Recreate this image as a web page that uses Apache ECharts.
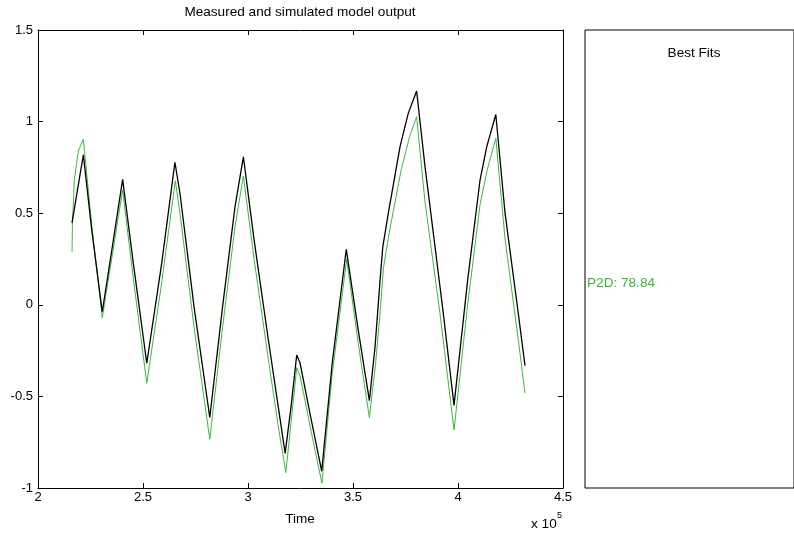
<!DOCTYPE html>
<html>
<head>
<meta charset="utf-8">
<script src="https://cdn.jsdelivr.net/npm/echarts@6/dist/echarts.min.js"></script>
<style>html,body{margin:0;padding:0;background:#fff;}#c{width:794px;height:535px;}</style>
</head>
<body>
<div id="c"></div>
<script>
// Time in units of 1e5
var measuredTime = [2.162, 2.188, 2.216, 2.256, 2.306, 2.354, 2.403, 2.454, 2.518, 2.589, 2.652, 2.676, 2.743, 2.818, 2.879, 2.938, 2.978, 3.029, 3.097, 3.144, 3.177, 3.205, 3.232, 3.248, 3.295, 3.351, 3.401, 3.468, 3.525, 3.578, 3.605, 3.629, 3.642, 3.668, 3.724, 3.763, 3.803, 3.843, 3.930, 3.981, 4.046, 4.105, 4.137, 4.180, 4.224, 4.287, 4.319];
var measuredValue = [0.447, 0.627, 0.818, 0.408, -0.038, 0.317, 0.685, 0.226, -0.319, 0.226, 0.778, 0.609, -0.010, -0.615, -0.010, 0.535, 0.808, 0.354, -0.192, -0.556, -0.811, -0.556, -0.274, -0.319, -0.592, -0.908, -0.319, 0.303, -0.138, -0.523, -0.229, 0.135, 0.317, 0.499, 0.863, 1.045, 1.167, 0.754, -0.046, -0.549, 0.135, 0.681, 0.863, 1.039, 0.500, -0.046, -0.332];
var simulatedTime = [2.162, 2.164, 2.173, 2.192, 2.216, 2.256, 2.306, 2.354, 2.403, 2.454, 2.518, 2.589, 2.654, 2.676, 2.743, 2.818, 2.879, 2.938, 2.978, 3.029, 3.097, 3.144, 3.180, 3.205, 3.232, 3.248, 3.295, 3.352, 3.401, 3.470, 3.525, 3.578, 3.607, 3.632, 3.645, 3.672, 3.730, 3.770, 3.803, 3.843, 3.914, 3.981, 4.046, 4.105, 4.140, 4.180, 4.224, 4.287, 4.319];
var simulatedValue = [0.290, 0.440, 0.681, 0.840, 0.903, 0.435, -0.070, 0.272, 0.627, 0.142, -0.428, 0.121, 0.677, 0.499, -0.120, -0.734, -0.122, 0.425, 0.703, 0.249, -0.297, -0.661, -0.916, -0.643, -0.343, -0.387, -0.660, -0.974, -0.379, 0.250, -0.211, -0.616, -0.330, 0.000, 0.200, 0.390, 0.740, 0.920, 1.027, 0.560, -0.046, -0.683, 0.001, 0.547, 0.740, 0.909, 0.360, -0.190, -0.483];
var xTicks = [2, 2.5, 3, 3.5, 4, 4.5];
var yTicks = [-1, -0.5, 0, 0.5, 1, 1.5];
var fitName = 'P2D';
var fitValue = 78.84;

function pairs(t, v) { return t.map(function (x, i) { return [x, v[i]]; }); }

var FONT = '"Liberation Sans", Arial, Helvetica, sans-serif';
var FS = 13.6;
var GREEN = '#3cb83c';
var chart = echarts.init(document.getElementById('c'), null, {renderer: 'canvas'});

var tickStyle = {show: true, inside: true, length: 5, lineStyle: {color: '#000', width: 1}};
var lineStyle = {show: true, onZero: false, lineStyle: {color: '#000', width: 1}};

chart.setOption({
  animation: false,
  backgroundColor: '#fff',
  grid: [
    {left: 38, top: 30, width: 525, height: 458, show: false},
    {left: 585, top: 30, width: 300, height: 458, show: true, borderColor: '#000', borderWidth: 1, backgroundColor: 'transparent'}
  ],
  xAxis: [
    {type: 'value', gridIndex: 0, position: 'bottom', min: xTicks[0], max: xTicks[xTicks.length - 1], interval: 0.5,
     axisLine: lineStyle, axisTick: tickStyle, splitLine: {show: false},
     axisLabel: {color: '#000', fontFamily: FONT, fontSize: 13, margin: 3, formatter: function (v) { return String(v); }}},
    {type: 'value', gridIndex: 0, position: 'top', min: xTicks[0], max: xTicks[xTicks.length - 1], interval: 0.5,
     axisLine: lineStyle, axisTick: tickStyle, splitLine: {show: false}, axisLabel: {show: false}},
    {type: 'value', gridIndex: 1, min: 0, max: 1, show: false}
  ],
  yAxis: [
    {type: 'value', gridIndex: 0, position: 'left', min: yTicks[0], max: yTicks[yTicks.length - 1], interval: 0.5,
     axisLine: lineStyle, axisTick: tickStyle, splitLine: {show: false},
     axisLabel: {color: '#000', fontFamily: FONT, fontSize: 13, margin: 5, formatter: function (v) { return String(v); }}},
    {type: 'value', gridIndex: 0, position: 'right', min: yTicks[0], max: yTicks[yTicks.length - 1], interval: 0.5,
     axisLine: lineStyle, axisTick: tickStyle, splitLine: {show: false}, axisLabel: {show: false}},
    {type: 'value', gridIndex: 1, min: 0, max: 1, show: false}
  ],
  series: [
    {name: 'Measured', type: 'line', xAxisIndex: 0, yAxisIndex: 0, data: pairs(measuredTime, measuredValue),
     showSymbol: false, symbol: 'none', lineStyle: {color: '#000', width: 1.3}, z: 3},
    {name: fitName, type: 'line', xAxisIndex: 0, yAxisIndex: 0, data: pairs(simulatedTime, simulatedValue),
     showSymbol: false, symbol: 'none', lineStyle: {color: GREEN, width: 1}, z: 2}
  ],
  graphic: [
    {type: 'text', x: 300, y: 12, style: {text: 'Measured and simulated model output', fill: '#000', font: FS + 'px ' + FONT, textAlign: 'center', textVerticalAlign: 'middle'}},
    {type: 'text', x: 300, y: 519, style: {text: 'Time', fill: '#000', font: FS + 'px ' + FONT, textAlign: 'center', textVerticalAlign: 'middle'}},
    {type: 'text', x: 531, y: 524, style: {text: 'x 10', fill: '#000', font: FS + 'px ' + FONT, textAlign: 'left', textVerticalAlign: 'middle'}},
    {type: 'text', x: 557, y: 516, style: {text: '5', fill: '#000', font: '9px ' + FONT, textAlign: 'left', textVerticalAlign: 'middle'}},
    {type: 'text', x: 694, y: 53, style: {text: 'Best Fits', fill: '#000', font: FS + 'px ' + FONT, textAlign: 'center', textVerticalAlign: 'middle'}},
    {type: 'text', x: 587, y: 283, style: {text: fitName + ': ' + fitValue.toFixed(2), fill: GREEN, font: FS + 'px ' + FONT, textAlign: 'left', textVerticalAlign: 'middle'}}
  ]
});
</script>
</body>
</html>
